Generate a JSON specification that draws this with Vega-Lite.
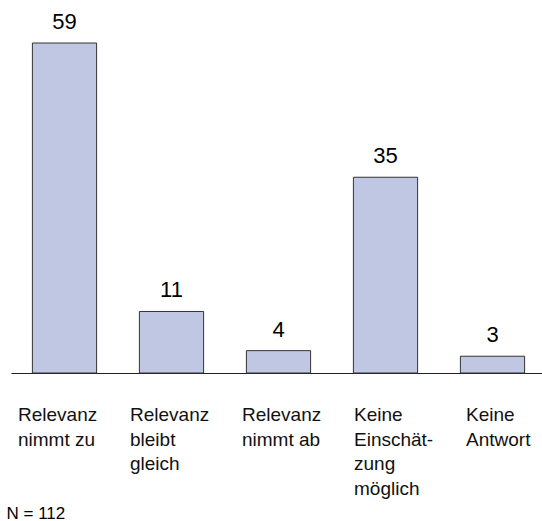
{
  "$schema": "https://vega.github.io/schema/vega-lite/v6.json",
  "width": 531,
  "height": 330,
  "autosize": "none",
  "padding": {"left": 11, "top": 43, "right": 0, "bottom": 148},
  "background": "white",
  "config": {"view": {"stroke": null}, "font": "Liberation Sans"},
  "data": {"values": [
    {"cat": "Relevanz nimmt zu", "label": "Relevanz\nnimmt zu", "value": 59},
    {"cat": "Relevanz bleibt gleich", "label": "Relevanz\nbleibt\ngleich", "value": 11},
    {"cat": "Relevanz nimmt ab", "label": "Relevanz\nnimmt ab", "value": 4},
    {"cat": "Keine Einschätzung möglich", "label": "Keine\nEinschät-\nzung\nmöglich", "value": 35},
    {"cat": "Keine Antwort", "label": "Keine\nAntwort", "value": 3}
  ]},
  "resolve": {"scale": {"x": "independent"}, "axis": {"x": "independent"}},
  "layer": [
    {
      "mark": {"type": "bar", "fill": "#c0c7e3", "stroke": "#333333", "strokeWidth": 1},
      "encoding": {
        "x": {"field": "cat", "type": "nominal", "sort": null,
          "scale": {"paddingInner": 0.4, "paddingOuter": 0.2, "range": [0, 535]},
          "axis": {"title": "N = 112", "labels": false, "ticks": false, "domain": true, "domainColor": "#222222", "domainWidth": 1,
            "titleX": -5, "titleY": 145, "titleAlign": "left", "titleBaseline": "alphabetic", "titleFontSize": 17, "titleFontWeight": "normal", "titleColor": "#000000", "titleFont": "Liberation Sans"}},
        "y": {"field": "value", "type": "quantitative", "scale": {"domain": [0, 59], "nice": false}, "axis": null}
      }
    },
    {
      "mark": {"type": "text", "baseline": "alphabetic", "dy": -14, "fontSize": 22, "color": "#000000"},
      "encoding": {
        "x": {"field": "cat", "type": "nominal", "sort": null, "scale": {"type": "band", "paddingInner": 0.4, "paddingOuter": 0.2, "range": [0, 535]}, "axis": null},
        "y": {"field": "value", "type": "quantitative"},
        "text": {"field": "value", "type": "quantitative"}
      }
    },
    {
      "mark": {"type": "text", "align": "left", "baseline": "alphabetic", "dy": 48, "fontSize": 19, "lineBreak": "\n", "lineHeight": 24.5, "color": "#111111"},
      "encoding": {
        "x": {"field": "cat", "type": "nominal", "sort": null, "scale": {"type": "point", "range": [7, 455], "padding": 0}, "axis": null},
        "y": {"datum": 0, "type": "quantitative"},
        "text": {"field": "label"}
      }
    }
  ]
}
